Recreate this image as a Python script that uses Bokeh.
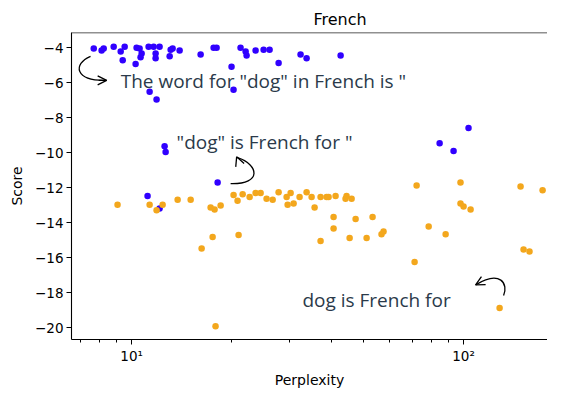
from bokeh.plotting import figure
from bokeh.models import FixedTicker, Range1d, Span, Arrow, OpenHead
from bokeh.embed import file_html
from bokeh.resources import INLINE
from bokeh.core.properties import value

# ---- data ----
blue_perplexity = [7.69, 8.12, 8.24, 8.83, 9.27, 9.40, 9.53, 10.35, 10.57, 10.72,
                   10.64, 10.28, 11.25, 11.65, 12.14, 11.81, 11.81, 13.11, 13.29, 13.02,
                   13.95, 16.14, 17.66, 18.03, 20.0, 21.29, 22.05, 22.2, 23.63, 24.98,
                   26.04, 27.72, 32.28, 33.66, 42.62, 11.33, 11.89, 20.28, 12.57, 12.66,
                   18.16, 11.17, 12.14, 84.7, 93.3, 103.5]
blue_score = [-4.05, -4.16, -4.05, -3.95, -4.22, -4.71, -3.95, -4.0, -4.05, -4.33,
              -4.55, -4.93, -3.95, -3.95, -3.95, -4.33, -4.6, -4.11, -4.05, -4.49,
              -4.16, -4.38, -4.0, -4.0, -5.09, -4.0, -4.22, -4.44, -4.16, -4.11,
              -4.11, -4.87, -4.38, -4.6, -4.44, -6.51, -6.95, -6.4, -9.63, -9.95,
              -11.7, -12.47, -13.18, -9.46, -9.9, -8.59]

orange_perplexity = [9.07, 11.33, 12.4, 11.89, 13.76, 15.06, 17.3, 17.78, 18.54, 20.28,
                     20.85, 21.6, 22.67, 23.63, 24.47, 25.5, 26.6, 27.72, 29.31, 30.13,
                     29.51, 30.76, 32.06, 33.66, 34.85, 35.58, 37.09, 38.67, 39.21, 41.16,
                     44.1, 44.42, 46.0, 40.59, 40.59, 37.09, 45.37, 47.29, 51.04, 53.2,
                     56.6, 57.4, 78.5, 88.3, 72.2, 97.9, 97.9, 100.0, 105.0, 148.5,
                     173.0, 71.2, 151.6, 158.0, 128.4, 17.54, 21.0, 16.25, 17.9]
orange_score = [-12.96, -12.96, -12.96, -13.28, -12.68, -12.68, -13.12, -13.23, -13.01, -12.41,
                -12.74, -12.36, -12.52, -12.3, -12.3, -12.63, -12.68, -12.25, -12.52, -12.3,
                -12.96, -12.9, -12.52, -12.25, -12.52, -13.12, -12.52, -12.52, -12.52, -12.47,
                -12.63, -12.47, -12.63, -13.67, -14.32, -15.03, -14.87, -13.78, -14.87, -13.67,
                -14.65, -14.49, -14.21, -14.65, -11.86, -11.7, -12.9, -13.07, -13.23, -11.92,
                -12.14, -16.23, -15.52, -15.63, -18.86, -14.81, -14.7, -15.47, -19.9]

y_ticks = [-20, -18, -16, -14, -12, -10, -8, -6, -4]
x_ticks = [10, 100]
x_tick_labels = ["10\u00b9", "10\u00b2"]
x_minor = [7, 8, 9, 20, 30, 40, 50, 60, 70, 80, 90]

title_text = "French"
ann1 = 'The word for "dog" in French is "'
ann2 = '"dog" is French for "'
ann3 = 'dog is French for'

# ---- figure ----
p = figure(width=547, height=390, x_axis_type="log", output_backend="svg",
           toolbar_location=None, x_range=Range1d(6.59, 179), y_range=Range1d(-20.66, -3.13),
           min_border_left=71, min_border_right=0, min_border_top=32, min_border_bottom=43)
p.background_fill_color = "white"
p.border_fill_color = "white"
p.outline_line_color = None
p.grid.visible = False

p.title.text = title_text
p.title.align = "left"
p.title.offset = 242
p.title.text_font = "DejaVu Sans"
p.title.text_font_style = "normal"
p.title.text_font_size = "16px"
p.title.text_color = "black"
p.title.standoff = 7

for ax in (p.xaxis[0], p.yaxis[0]):
    ax.axis_line_color = "black"
    ax.axis_line_width = 1.1
    ax.major_tick_line_color = "black"
    ax.major_tick_out = 5
    ax.major_tick_in = 0
    ax.major_label_text_font = "DejaVu Sans"
    ax.major_label_text_font_size = "13.5px"
    ax.major_label_text_color = "black"
    ax.axis_label_text_font = "DejaVu Sans"
    ax.axis_label_text_font_size = "14px"
    ax.axis_label_text_font_style = "normal"
    ax.axis_label_text_color = "black"

p.yaxis.ticker = FixedTicker(ticks=y_ticks)
p.yaxis.major_label_overrides = {t: "\u2212" + str(abs(t)) for t in y_ticks}
p.yaxis.minor_tick_line_color = None
p.yaxis.axis_label = "Score"
p.yaxis.axis_label_standoff = 7
p.yaxis.major_label_standoff = 3

p.xaxis.ticker = FixedTicker(ticks=x_ticks, minor_ticks=x_minor)
p.xaxis.major_label_overrides = {t: l for t, l in zip(x_ticks, x_tick_labels)}
p.xaxis.minor_tick_out = 3
p.xaxis.minor_tick_in = 0
p.xaxis.minor_tick_line_color = "black"
p.xaxis.axis_label = "Perplexity"
p.xaxis.axis_label_standoff = 5
p.xaxis.major_label_standoff = 3

p.add_layout(Span(location=-3.13, dimension="width", line_color="#222222", line_width=1.6))

p.scatter(blue_perplexity, blue_score, size=6.5, fill_color="#3000ff", line_color=None)
p.scatter(orange_perplexity, orange_score, size=6.5, fill_color="#f3a71d", line_color=None)

# ---- annotations ----
txt_color = "#2b3a4a"
hand_font = value("Open Sans")
for tx, ty, tt in ((9.27, -5.91, ann1), (13.66, -9.41, ann2), (32.7, -18.42, ann3)):
    p.text(x=[tx], y=[ty], text=[tt], text_font=hand_font, text_font_size="19px",
           text_color=txt_color, text_baseline="middle", text_align="left")

# curved arrows
p.bezier(x0=[7.52], y0=[-4.49], cx0=[6.64], cy0=[-4.93], cx1=[6.73], cy1=[-5.91],
         x1=[8.41], y1=[-5.86], line_color="black", line_width=1.3)
p.add_layout(Arrow(end=OpenHead(size=9, line_color="black", line_width=1.3),
                   x_start=7.96, y_start=-5.86, x_end=8.41, y_end=-5.86,
                   line_color="black", line_width=1.3))

p.bezier(x0=[19.87], y0=[-11.76], cx0=[24.81], cy0=[-11.81], cx1=[24.13], cy1=[-10.66],
         x1=[20.86], y1=[-10.28], line_color="black", line_width=1.3)
p.add_layout(Arrow(end=OpenHead(size=9, line_color="black", line_width=1.3),
                   x_start=21.15, y_start=-10.66, x_end=20.72, y_end=-10.23,
                   line_color=None))

p.bezier(x0=[132.0], y0=[-18.15], cx0=[136.6], cy0=[-17.49], cx1=[129.3], cy1=[-16.67],
         x1=[108.7], y1=[-17.54], line_color="black", line_width=1.3)
p.add_layout(Arrow(end=OpenHead(size=9, line_color="black", line_width=1.3),
                   x_start=114.1, y_start=-17.33, x_end=108.7, y_end=-17.54,
                   line_color=None))

open("out.html", "w").write(file_html(p, INLINE))
